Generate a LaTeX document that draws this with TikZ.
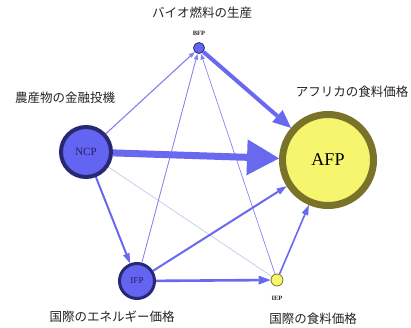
\documentclass[tikz,border=0pt]{standalone}
\usepackage{fontspec}
\setmainfont{Liberation Serif}
\newfontfamily\jpfont{Noto Sans CJK JP}
\usetikzlibrary{arrows.meta,backgrounds}
\definecolor{nodeblue}{RGB}{100,100,242}
\definecolor{navy}{RGB}{40,40,115}
\definecolor{edgeblue}{RGB}{105,105,240}
\definecolor{edgelight}{RGB}{130,130,238}
\definecolor{edgefaint}{RGB}{200,200,232}
\definecolor{nodeyellow}{RGB}{245,245,110}
\definecolor{olive}{RGB}{120,115,40}
\definecolor{txt}{RGB}{35,35,35}
\begin{document}
\begin{tikzpicture}[x=1pt,y=-1pt,
  bluenode/.style={circle,draw=navy,fill=nodeblue,inner sep=0pt,text=navy!80!black},
  yellownode/.style={circle,fill=nodeyellow,inner sep=0pt},
  jplabel/.style={font=\jpfont\fontsize{12.5}{14}\selectfont,text=txt,inner sep=0pt},
  smalllabel/.style={font=\bfseries\fontsize{6.5}{8}\selectfont,text=txt,inner sep=0pt},
  edge/.style={draw=edgeblue,fill=edgeblue},
  thin/.style={draw=edgelight,fill=edgelight,line width=0.8pt,-{Triangle[length=6pt,width=4.5pt,line width=0pt]}},
  mid/.style={edge,line width=2pt,-{Triangle[length=10pt,width=7pt,line width=0pt]}}
]
\useasboundingbox (0,0) rectangle (411,328);

\node[bluenode,minimum size=50pt,line width=4pt,font=\fontsize{11}{13}\selectfont] (ncp) at (86,152) {NCP};
\node[yellownode,draw=olive,minimum size=91pt,line width=7pt,font=\fontsize{18}{20}\selectfont,text=black] (afp) at (328,160) {AFP};
\node[bluenode,minimum size=11pt,line width=0.8pt] (bfp) at (199,48) {};
\node[bluenode,minimum size=35pt,line width=3pt,font=\fontsize{9}{11}\selectfont] (ifp) at (137,281) {IFP};
\node[yellownode,draw=olive,minimum size=12pt,line width=0.8pt] (iep) at (277,280) {};

\node[jplabel] (lbfp) at (202,13) {バイオ燃料の生産};
\node[smalllabel] (tbfp) at (199,33) {BFP};
\node[jplabel] (lncp) at (65,98) {農産物の金融投機};
\node[jplabel] (lafp) at (352,92) {アフリカの食料価格};
\node[jplabel] (lifp) at (112,317) {国際のエネルギー価格};
\node[jplabel] (liep) at (313,319) {国際の食料価格};
\node[smalllabel] (tiep) at (277,298) {IEP};

\begin{pgfonlayer}{background}
\fill[white] (0,0) rectangle (411,328);
\draw[edgefaint,line width=0.7pt] (ncp) -- (iep);
\draw[thin,line width=1.1pt] (ncp) -- (bfp);
\draw[thin] (ifp) -- (bfp);
\draw[thin,line width=0.6pt] (iep) -- (bfp);
\draw[mid] (ncp) -- (ifp);
\draw[mid] (ifp) -- (afp);
\draw[mid,line width=2.6pt,-{Triangle[length=12pt,width=9pt,line width=0pt]}] (ifp) -- (iep);
\draw[mid,line width=1.6pt] (iep) -- (afp);
\draw[edge,line width=4pt,-{Triangle[length=18pt,width=16pt,line width=0pt]}] (bfp) -- (afp);
\draw[edge,line width=7pt,-{Triangle[length=32pt,width=36pt,line width=0pt]}] (ncp) -- (afp);
\end{pgfonlayer}
\end{tikzpicture}
\end{document}
